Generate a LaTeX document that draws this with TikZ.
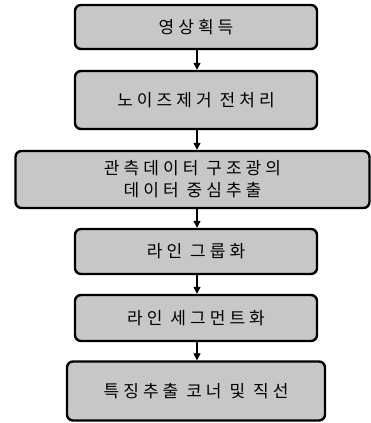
\documentclass[tikz,border=0pt]{standalone}
\usepackage{fontspec}
\newfontfamily\kr[LetterSpace=24]{Noto Sans CJK KR}
\usetikzlibrary{arrows.meta}
\begin{document}
\begin{tikzpicture}[x=1pt,y=-1pt,
  stepbox/.style={draw=black,line width=2.4pt,rounded corners=6pt,fill=black!22,
    inner sep=0pt,font=\kr\fontsize{17}{22}\selectfont,align=center,text=black},
  conn/.style={line width=1.2pt,-{Triangle[length=7pt,width=7pt]}}]
\useasboundingbox (0,0) rectangle (371,423);
\node[stepbox,minimum width=242pt,minimum height=44pt] (b1) at (196,27) {영상획득};
\node[stepbox,minimum width=242pt,minimum height=58pt] (b2) at (196,100) {노이즈제거 전처리};
\node[stepbox,minimum width=354pt,minimum height=57pt] (b3) at (192.5,179.5) {관측데이터 구조광의\\데이터 중심추출};
\node[stepbox,minimum width=242pt,minimum height=45pt] (b4) at (196,251.5) {라인 그룹화};
\node[stepbox,minimum width=242pt,minimum height=46pt] (b5) at (196,318) {라인 세그먼트화};
\node[stepbox,minimum width=258pt,minimum height=59pt] (b6) at (196,391) {특징추출 코너 및 직선};
\draw[conn] (b1.south -| 197,0) -- (b2.north -| 197,0);
\draw[conn] (b2.south -| 197,0) -- (b3.north -| 197,0);
\draw[conn] (b3.south -| 197,0) -- (b4.north -| 197,0);
\draw[conn] (b4.south -| 197,0) -- (b5.north -| 197,0);
\draw[conn] (b5.south -| 197,0) -- (b6.north -| 197,0);
\end{tikzpicture}
\end{document}
